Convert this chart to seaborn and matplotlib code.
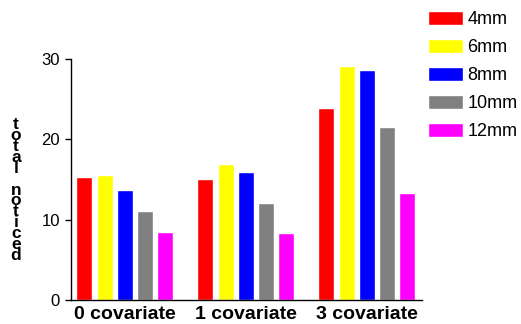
import pandas as pd
import matplotlib
matplotlib.use("Agg")
import matplotlib.pyplot as plt
import seaborn as sns

# datos
groups = ["0 covariate", "1 covariate", "3 covariate"]
sizes = ["4mm", "6mm", "8mm", "10mm", "12mm"]
vals_4mm = [15.35, 15.07, 23.87]
vals_6mm = [15.5, 16.94, 29.18]
vals_8mm = [13.65, 15.9, 28.68]
vals_10mm = [11.1, 12.08, 21.58]
vals_12mm = [8.5, 8.34, 13.29]
colors = ["#ff0000", "#ffff00", "#0000ff", "#808080", "#ff00ff"]
ylabel = "total noticed"

rows = []
for s, vals in zip(sizes, [vals_4mm, vals_6mm, vals_8mm, vals_10mm, vals_12mm]):
    for g, v in zip(groups, vals):
        rows.append({"grupo": g, "size": s, "total": v})
df = pd.DataFrame(rows)

sns.set_style("white")
plt.rcParams["font.family"] = ["Liberation Sans", "DejaVu Sans"]
plt.rcParams["text.color"] = "black"
plt.rcParams["xtick.color"] = "black"
plt.rcParams["ytick.color"] = "black"
plt.rcParams["xtick.labelcolor"] = "black"
plt.rcParams["ytick.labelcolor"] = "black"

fig = plt.figure(figsize=(5.21, 3.24), dpi=100)
ax = fig.add_axes([71 / 521, 24 / 324, 351 / 521, 241 / 324])

sns.barplot(data=df, x="grupo", y="total", hue="size", order=groups, hue_order=sizes,
            palette=colors, saturation=1, width=0.835, gap=0.21, ax=ax, legend=True)

ax.set_xlim(-0.445, 2.456)
ax.set_ylim(0, 30)
ax.set_yticks([0, 10, 20, 30])
ax.set_xlabel("")
ax.set_ylabel("")
for sp in ["top", "right"]:
    ax.spines[sp].set_visible(False)
for sp in ["left", "bottom"]:
    ax.spines[sp].set_color("black")
    ax.spines[sp].set_linewidth(1.0)
ax.tick_params(axis="y", length=4, width=1, direction="out", pad=4, labelsize=12, left=True,
               colors="black")
ax.tick_params(axis="x", length=0, pad=4, colors="black")
for lab in ax.get_xticklabels():
    lab.set_fontsize(14)
    lab.set_fontweight("bold")

# leyenda arriba a la derecha
handles, labels = ax.get_legend_handles_labels()
ax.get_legend().remove()
leg = fig.legend(handles, labels, loc="upper left", bbox_to_anchor=(428 / 521, 1 - 11 / 324),
                 frameon=False, fontsize=13, handlelength=1.95, handleheight=0.85,
                 labelspacing=0.58, handletextpad=0.22, borderpad=0, borderaxespad=0,
                 labelcolor="black")

# etiqueta del eje y con letras apiladas (un solo texto)
fig.text(16 / 521, 1 - 117 / 324, "\n".join(ylabel), ha="center", va="top", color="black",
         fontsize=12.5, fontweight="bold", linespacing=0.66, multialignment="center")

fig.savefig("out.png", dpi=100)
